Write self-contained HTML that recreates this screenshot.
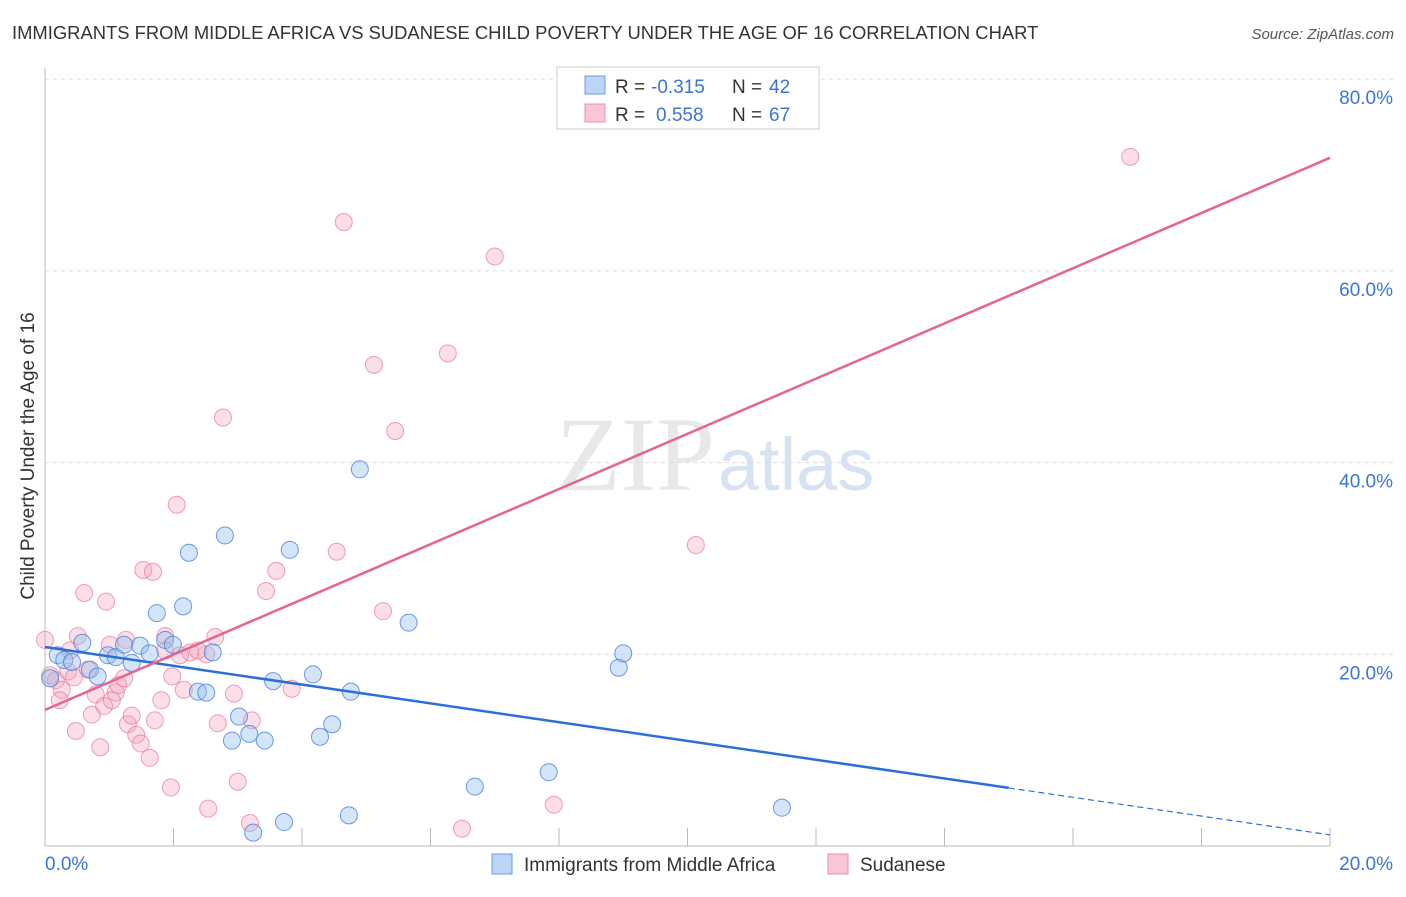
<!DOCTYPE html>
<html><head><meta charset="utf-8"><style>
body{margin:0;background:#fff;font-family:"Liberation Sans",sans-serif}
</style></head><body>
<svg width="1406" height="892" xmlns="http://www.w3.org/2000/svg" font-family="Liberation Sans, sans-serif">
<text x="12" y="39" font-size="18.4" fill="#333">IMMIGRANTS FROM MIDDLE AFRICA VS SUDANESE CHILD POVERTY UNDER THE AGE OF 16 CORRELATION CHART</text>
<text x="1394" y="39" font-size="15" fill="#555" font-style="italic" text-anchor="end">Source: ZipAtlas.com</text>
<text x="715" y="490" font-size="106" fill="#e8e8e8" text-anchor="end" font-family="Liberation Serif, serif">ZIP</text>
<text x="718" y="490" font-size="74" fill="#d7e3f3">atlas</text>
<g id="grid"></g>
<g id="axes"></g>
<text transform="translate(34,456) rotate(-90)" font-size="19" fill="#333" text-anchor="middle">Child Poverty Under the Age of 16</text>
<g id="pts"></g>
<g id="lines"></g>
<g>
<rect x="557" y="67" width="262" height="62" fill="#fff" stroke="#ccc"/>
<rect x="585" y="76" width="20" height="18" fill="#bcd4f5" stroke="#6d9de0"/>
<rect x="585" y="104" width="20" height="18" fill="#f9c6d5" stroke="#ec8fab"/>
<text x="615" y="93" font-size="19" fill="#333">R =</text>
<text x="651" y="93" font-size="19" fill="#3a75d6">-0.315</text>
<text x="732" y="93" font-size="19" fill="#333">N =</text>
<text x="769" y="93" font-size="19" fill="#3a75d6">42</text>
<text x="615" y="121" font-size="19" fill="#333">R =</text>
<text x="656" y="121" font-size="19" fill="#3a75d6">0.558</text>
<text x="732" y="121" font-size="19" fill="#333">N =</text>
<text x="769" y="121" font-size="19" fill="#3a75d6">67</text>
</g>
<g>
<rect x="492" y="854" width="20" height="20" fill="#bcd4f5" stroke="#6d9de0"/>
<text x="524" y="871" font-size="19" fill="#333">Immigrants from Middle Africa</text>
<rect x="828" y="854" width="20" height="20" fill="#f9c6d5" stroke="#ec8fab"/>
<text x="860" y="871" font-size="19" fill="#333">Sudanese</text>
</g>
</svg>
<script>
const yTicks=[20,40,60,80];
const yTickLabels=["20.0%","40.0%","60.0%","80.0%"];
const blueX=[0.08,0.2,0.3,0.42,0.58,0.7,0.82,0.98,1.1,1.23,1.35,1.48,1.63,1.74,1.87,1.99,2.15,2.24,2.38,2.51,2.61,2.8,2.91,3.02,3.18,3.24,3.42,3.55,3.72,3.81,4.17,4.28,4.47,4.73,4.76,4.9,5.66,6.69,7.84,8.93,9.0,11.47];
const blueY=[17.5,19.9,19.4,19.2,21.2,18.4,17.7,19.9,19.7,21.0,19.1,20.9,20.1,24.3,21.5,21.0,25.0,30.6,16.1,16.0,20.2,32.4,11.0,13.5,11.7,1.4,11.0,17.2,2.5,30.9,17.9,11.4,12.7,3.2,16.1,39.3,23.3,6.2,7.7,18.6,20.1,4.0];
const pinkX=[0,0.08,0.17,0.26,0.36,0.45,0.51,0.61,0.67,0.73,0.79,0.86,0.48,0.92,0.95,1.01,1.1,1.14,1.23,1.29,1.35,1.42,1.49,1.53,1.63,1.68,1.71,1.81,1.87,1.98,2.05,2.16,2.26,1.96,2.51,2.54,2.65,2.69,2.77,2.94,3.0,3.22,3.19,3.44,3.6,3.84,4.54,4.65,5.12,5.26,5.45,6.27,6.49,7.0,7.92,10.13,16.89,0.23,0.39,1.04,1.26,1.87,2.1,2.38];
const pinkY=[21.5,17.8,17.3,16.3,18.2,17.6,21.9,26.4,18.4,13.7,15.8,10.3,12.0,14.6,25.5,21.0,16.0,16.8,17.5,12.7,13.6,11.6,10.7,28.8,9.2,28.6,13.1,15.2,21.9,17.7,35.6,16.3,20.2,6.1,20.0,3.9,21.8,12.8,44.7,15.9,6.7,13.1,2.4,26.6,28.7,16.4,30.7,65.1,50.2,24.5,43.3,51.4,1.8,61.5,4.3,31.4,71.9,15.2,20.4,15.2,21.5,20.4,19.9,20.4];
const blueFit=[20.76,-0.98];   // intercept, slope
const pinkFit=[14.2,2.88];
const NS="http://www.w3.org/2000/svg";
const sx=v=>45+v*64.25, sy=v=>846-v*9.585;
function mk(t,a,p){const e=document.createElementNS(NS,t);for(const k in a)e.setAttribute(k,a[k]);p.appendChild(e);return e;}
const grid=document.getElementById('grid'),axes=document.getElementById('axes');
yTicks.forEach((t,i)=>{
 const l=mk('line',{x1:45,x2:1395,y1:sy(t),y2:sy(t),stroke:'#ddd','stroke-dasharray':'4 4'},grid);
 
 
 const tx=mk('text',{x:1393,y:sy(t)+25,'font-size':19,fill:'#3a75d6','text-anchor':'end'},axes);
 tx.textContent=yTickLabels[i];
 
 
});
mk('line',{x1:45,x2:1330,y1:846,y2:846,stroke:'#bbb'},axes);
mk('line',{x1:45,x2:45,y1:68,y2:846,stroke:'#bbb'},axes);
for(let i=1;i<=10;i++){mk('line',{x1:sx(i*2),x2:sx(i*2),y1:828,y2:846,stroke:'#bbb'},axes);}
let t0=mk('text',{x:45,y:870,'font-size':19,fill:'#3a75d6'},axes);t0.textContent='0.0%';


let t1=mk('text',{x:1393,y:870,'font-size':19,fill:'#3a75d6','text-anchor':'end'},axes);t1.textContent='20.0%';


const pts=document.getElementById('pts');
pinkX.forEach((x,i)=>{const c=mk('circle',{cx:sx(x),cy:sy(pinkY[i]),r:8.5,fill:'rgba(244,160,185,0.35)',stroke:'rgba(232,120,155,0.7)'},pts);
 
 });
blueX.forEach((x,i)=>{const c=mk('circle',{cx:sx(x),cy:sy(blueY[i]),r:8.5,fill:'rgba(150,190,240,0.4)',stroke:'rgba(70,130,220,0.8)'},pts);
 
 });
const lines=document.getElementById('lines');
const f=(fit,x)=>fit[0]+fit[1]*x;
let bl=mk('line',{x1:sx(0),y1:sy(f(blueFit,0)),x2:sx(15),y2:sy(f(blueFit,15)),stroke:'#2a6fd8','stroke-width':2.5},lines);


let bd=mk('line',{x1:sx(15),y1:sy(f(blueFit,15)),x2:sx(20),y2:sy(f(blueFit,20)),stroke:'#2a6fd8','stroke-width':1.2,'stroke-dasharray':'6 4'},lines);


let pl=mk('line',{x1:sx(0),y1:sy(f(pinkFit,0)),x2:sx(20),y2:sy(f(pinkFit,20)),stroke:'#e56590','stroke-width':2.5},lines);


</script>
</body></html>
